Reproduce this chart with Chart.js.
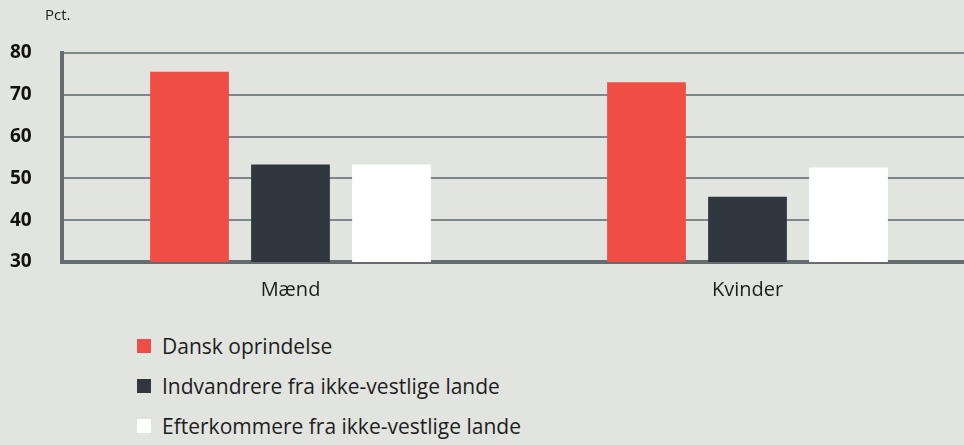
<!DOCTYPE html>
<html>
<head>
<meta charset="utf-8">
<script src="https://cdn.jsdelivr.net/npm/chart.js@4/dist/chart.umd.min.js"></script>
<style>
  html, body { margin: 0; padding: 0; background: #e2e4df; overflow: hidden; }
  #wrap { position: relative; width: 976px; height: 319px; }
  #legend { position: absolute; left: 137px; top: 326px; font-family: "Open Sans", sans-serif; font-size: 21px; color: #1e1e1e; }
  .item { display: flex; align-items: center; height: 40px; }
  .box { width: 14px; height: 14px; margin-right: 11px; }
</style>
</head>
<body>
<div id="wrap"><canvas id="chart" width="976" height="319"></canvas></div>
<div id="legend"></div>
<script>
const categories = ['Mænd', 'Kvinder'];
const seriesNames = ['Dansk oprindelse', 'Indvandrere fra ikke-vestlige lande', 'Efterkommere fra ikke-vestlige lande'];
const dansk = [75.5, 73];
const indvandrere = [53.3, 45.6];
const efterkommere = [53.3, 52.6];
const colors = ['#f04e45', '#30373f', '#ffffff'];
const yTicks = [30, 40, 50, 60, 70, 80];

const unitLabel = {
  id: 'unitLabel',
  afterDraw(chart) {
    const ctx = chart.ctx;
    ctx.save();
    ctx.font = '15px "Open Sans"';
    ctx.fillStyle = '#1e1e1e';
    ctx.textBaseline = 'middle';
    ctx.fillText('Pct.', 45, 16);
    ctx.restore();
  }
};

const chart = new Chart(document.getElementById('chart'), {
  type: 'bar',
  data: {
    labels: categories,
    datasets: [dansk, indvandrere, efterkommere].map((d, i) => ({
      label: seriesNames[i],
      data: d,
      backgroundColor: colors[i],
      borderWidth: 0,
      barPercentage: 0.78,
      categoryPercentage: 0.663
    }))
  },
  options: {
    responsive: false,
    animation: false,
    layout: { padding: { left: 10, top: 53, right: 0, bottom: 0 } },
    plugins: { legend: { display: false }, tooltip: { enabled: false } },
    scales: {
      x: {
        afterFit(scale) { scale.height = 57; },
        grid: { display: false },
        border: { width: 4, color: '#646c72' },
        ticks: { font: { family: 'Open Sans', size: 20 }, color: '#1e1e1e', padding: 8 }
      },
      y: {
        min: 30,
        max: 80,
        afterBuildTicks(scale) { scale.ticks = yTicks.map(v => ({ value: v })); },
        afterFit(scale) { scale.width = 52; },
        grid: { color: '#7d868b', lineWidth: 2, drawTicks: false },
        border: { width: 4, color: '#646c72' },
        ticks: {
          autoSkip: false,
          crossAlign: 'far',
          padding: 10,
          font: { family: 'Open Sans', size: 19, weight: 'bold' },
          color: '#111'
        }
      }
    }
  },
  plugins: [unitLabel]
});

// html legend from the chart datasets
const legend = document.getElementById('legend');
chart.data.datasets.forEach(ds => {
  const row = document.createElement('div');
  row.className = 'item';
  const box = document.createElement('span');
  box.className = 'box';
  box.style.background = ds.backgroundColor;
  row.appendChild(box);
  row.appendChild(document.createTextNode(ds.label));
  legend.appendChild(row);
});
</script>
</body>
</html>
